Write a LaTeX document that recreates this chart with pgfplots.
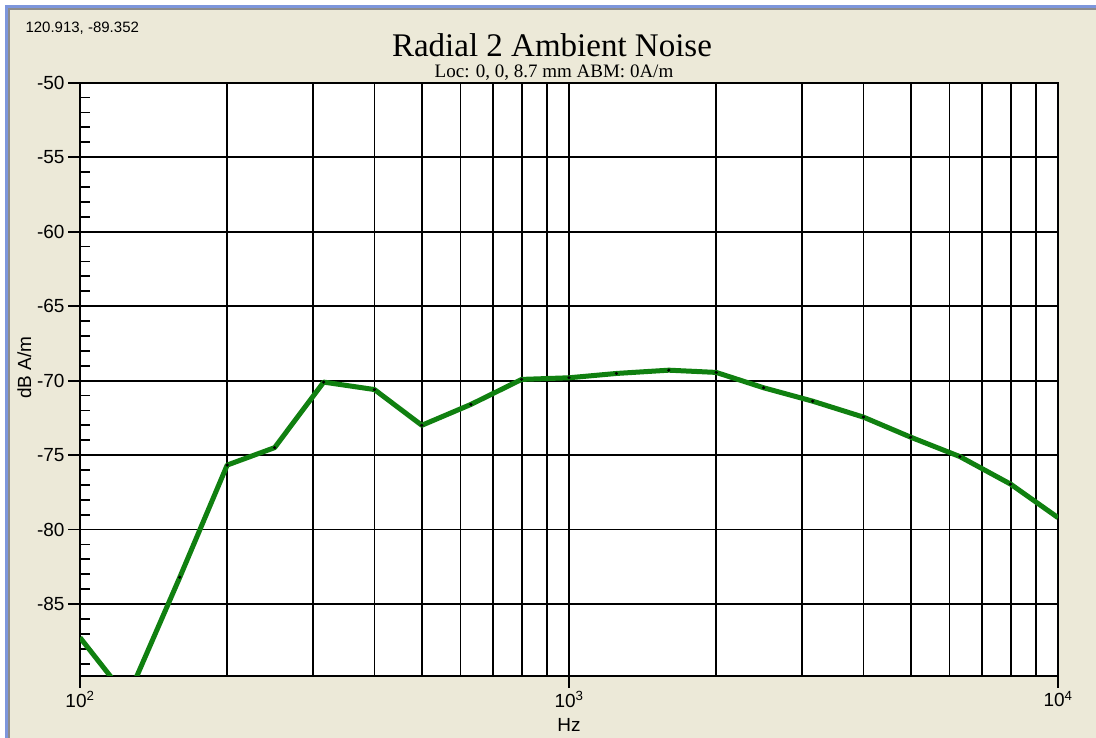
\documentclass[border=0pt]{standalone}
\usepackage{fontspec}
\setmainfont{Liberation Serif}
\setsansfont{Liberation Sans}
\usepackage{pgfplots}
\pgfplotsset{compat=1.18}

\definecolor{panel}{RGB}{236,233,216}
\definecolor{frameblue}{RGB}{125,150,220}
\definecolor{framegray}{RGB}{140,140,140}
\definecolor{trace}{RGB}{16,128,16}
\newcommand\lab{\sffamily\fontsize{19}{19}\selectfont}

\begin{document}
\begin{tikzpicture}[x=1pt,y=1pt]
\useasboundingbox (0,0) rectangle (1096,738);
% window background and frame
\fill[panel] (0,0) rectangle (1096,738);
\fill[white] (0,733) rectangle (1096,738);
\fill[frameblue] (0,730) rectangle (1096,733);
\fill[framegray] (8,728) rectangle (1096,730);
\fill[white] (0,0) rectangle (5,733);
\fill[frameblue] (5,0) rectangle (8,730);
\fill[framegray] (8,0) rectangle (10,728);

\begin{axis}[
  at={(80pt,62pt)}, anchor=south west,
  scale only axis, width=978pt, height=593.3pt,
  xmode=log, xmin=100, xmax=10000,
  ymin=-89.83, ymax=-50,
  axis background/.style={fill=white},
  axis line style={line width=1.8pt},
  xtick={100,1000,10000},
  xticklabels={10\textsuperscript{2},10\textsuperscript{3},10\textsuperscript{4}},
  minor xtick={200,300,400,500,600,700,800,900,2000,3000,4000,5000,6000,7000,8000,9000},
  ytick={-85,-80,...,-50},
  minor ytick={-89,-88,-87,-86,-84,-83,-82,-81,-79,-78,-77,-76,-74,-73,-72,-71,-69,-68,-67,-66,-64,-63,-62,-61,-59,-58,-57,-56,-54,-53,-52,-51},
  xmajorgrids, xminorgrids, ymajorgrids,
  major grid style={black, line width=1.8pt},
  minor grid style={black, line width=1.8pt},
  tick pos=left,
  tick align=outside,
  major tick length=12pt,
  minor tick length=-10pt,
  major tick style={black, line width=1.8pt},
  minor tick style={black, line width=1.8pt},
  minor x tick style={draw=none},
  ticklabel style={font=\lab},
  /pgf/number format/assume math mode=true,
  xlabel={Hz}, ylabel={dB A/m},
  every axis x label/.style={at={(axis description cs:0.5,0)}, anchor=base, yshift=-56pt, font=\lab},
  every axis y label/.style={at={(axis description cs:0,0.52)}, rotate=90, anchor=base, yshift=49pt, font=\lab},
]
\addplot[trace, line width=5pt, line join=round] coordinates {
(100,-87.25) (125,-91.3) (160,-83.2) (200,-75.67) (250,-74.5) (315,-70.1)
(400,-70.6) (500,-73.0) (630,-71.6) (800,-69.92) (1000,-69.81) (1250,-69.52)
(1600,-69.3) (2000,-69.45) (2500,-70.48) (3150,-71.38) (4000,-72.45)
(5000,-73.8) (6300,-75.1) (8000,-76.95) (10000,-79.2)
};
\addplot[only marks, mark=*, mark size=1.4pt, black] coordinates {
(160,-83.2) (200,-75.67) (250,-74.5) (315,-70.1)
(400,-70.6) (500,-73.0) (630,-71.6) (800,-69.92) (1000,-69.81) (1250,-69.52)
(1600,-69.3) (2000,-69.45) (2500,-70.48) (3150,-71.38) (4000,-72.45)
(5000,-73.8) (6300,-75.1) (8000,-76.95)
};
\end{axis}

\node[anchor=base west, font=\sffamily\fontsize{15}{15}\selectfont] at (22,705) {120.913, -89.352};
\node[anchor=base, font=\fontsize{33}{33}\selectfont] at (552,681) {Radial 2 Ambient Noise};
\node[anchor=base, font=\fontsize{19}{19}\selectfont] at (554,660) {Loc: 0, 0, 8.7 mm ABM: 0A/m};
\end{tikzpicture}
\end{document}
